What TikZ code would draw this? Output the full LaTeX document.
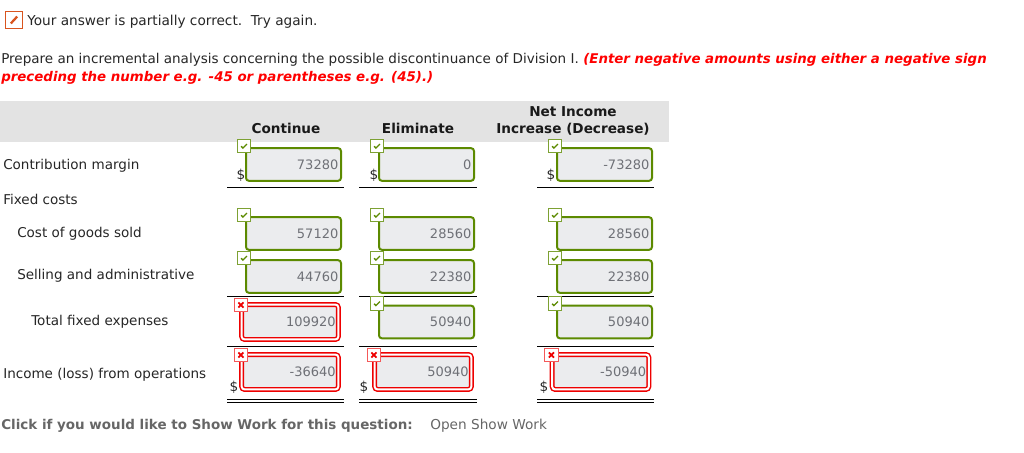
\documentclass[tikz,border=0pt]{standalone}
\usepackage{fontspec}
\setmainfont{DejaVu Sans}
\usepackage{tikz}
\usetikzlibrary{calc}
\definecolor{okgreen}{HTML}{5C8A00}
\definecolor{badred}{HTML}{EE0000}
\definecolor{fieldgray}{HTML}{EBECEE}
\definecolor{bandgray}{HTML}{E3E3E3}
\definecolor{valuegray}{HTML}{6E7076}
\definecolor{noteorange}{HTML}{D9541E}
\tikzset{
  plain/.style={anchor=base west,inner sep=0pt,font=\fontsize{10.15pt}{12pt}\selectfont,text=black!85},
  head/.style={anchor=base,inner sep=0pt,font=\fontsize{10.2pt}{12pt}\selectfont\bfseries,text=black!90},
  hint/.style={plain,text=red,font=\fontsize{10.02pt}{12pt}\selectfont\bfseries\itshape},
  field/.style={rounded corners=2.2pt,fill=fieldgray,text=valuegray,inner xsep=2pt,inner ysep=0pt,
    font=\fontsize{9.75pt}{12pt}\selectfont,align=right},
  okfield/.style={field,draw=okgreen,line width=1.5pt,minimum width=71.25pt,text width=67.25pt,minimum height=24.5pt},
  badfield/.style={field,draw=badred,line width=1.1pt,double=white,double distance=1.5pt,
    minimum width=72.5pt,text width=68.5pt,minimum height=26.2pt},
  okflag/.style={draw=okgreen!80,line width=0.8pt,fill=white,minimum size=10.2pt,inner sep=0pt},
  badflag/.style={draw=badred!65,line width=0.8pt,fill=white,minimum size=10.2pt,inner sep=0pt},
  rule/.style={line width=0.7pt,black}
}
% box centre x, centre y
\newcommand{\okcell}[4]{
  \node[okfield] (#1) at (#2,#3) {#4};
  \node[okflag] (#1flag) at ($(#1.north west)+(-0.75pt,0.9pt)$) {};
  \draw[okgreen,line width=1pt] ($(#1flag.center)+(-2.2pt,-0.2pt)$) -- ++(1.4pt,-1.4pt) -- ++(3pt,3pt);
}
\newcommand{\badcell}[4]{
  \node[badfield] (#1) at (#2,#3) {#4};
  \node[badflag] (#1flag) at ($(#1.north west)+(0pt,-0.9pt)$) {};
  \draw[badred,line width=1.3pt] ($(#1flag.center)+(-1.9pt,-1.9pt)$) -- ++(3.8pt,3.8pt)
    ($(#1flag.center)+(-1.9pt,1.9pt)$) -- ++(3.8pt,-3.8pt);
}
\begin{document}
\begin{tikzpicture}[x=0.75pt,y=-0.75pt]
  \useasboundingbox (0,0) rectangle (1024,453);

  % top note
  \node[draw=noteorange,line width=1.1pt,minimum size=12.6pt,inner sep=0pt] (note) at (14,20) {};
  \draw[noteorange,line width=1.7pt] ($(note.center)+(-2.4pt,-2.6pt)$) -- ($(note.center)+(2.4pt,2.6pt)$);
  \node[plain,font=\fontsize{10.25pt}{12pt}\selectfont] (status) at (27,26) {Your answer is partially correct.\ \ Try again.};

  \node[plain] (ask) at (1,64) {Prepare an incremental analysis concerning the possible discontinuance of Division I.};
  \node[hint] (hintone) at (583,64) {(Enter negative amounts using either a negative sign};
  \node[hint] (hinttwo) at (1,81) {preceding the number e.g. -45 or parentheses e.g. (45).)};

  % header band
  \fill[bandgray] (0,101) rectangle (669,142);
  \node[head] (continue) at (286,133) {Continue};
  \node[head] (eliminate) at (418,133) {Eliminate};
  \node[head] (netone) at (573,117) {Net Income};
  \node[head] (nettwo) at (573,133) {Increase (Decrease)};

  % row labels
  \foreach \nm/\x/\y/\txt in {contrib/3/169/Contribution margin,fixed/3/204/Fixed costs,
    cogs/17/237/Cost of goods sold,selling/17/279/Selling and administrative,
    total/31/325/Total fixed expenses,income/3/378/Income (loss) from operations}{
    \node[plain] (\nm) at (\x,\y) {\txt};
  }

  % rules
  \foreach \xa/\xb in {227/344,359/477,537/654}{
    \draw[rule] (\xa,187) -- (\xb,187);
    \draw[rule] (\xa,296) -- (\xb,296);
    \draw[rule] (\xa,346) -- (\xb,346);
    \draw[rule] (\xa,399.5) -- (\xb,399.5);
    \draw[rule] (\xa,402) -- (\xb,402);
  }

  % answer cells
  \okcell{ca}{293.5}{164.5}{73280}
  \okcell{cb}{426.5}{164.5}{0}
  \okcell{cc}{604.5}{164.5}{-73280}
  \okcell{da}{293.5}{233.5}{57120}
  \okcell{db}{426.5}{233.5}{28560}
  \okcell{dc}{604.5}{233.5}{28560}
  \okcell{ea}{293.5}{276.5}{44760}
  \okcell{eb}{426.5}{276.5}{22380}
  \okcell{ec}{604.5}{276.5}{22380}
  \badcell{fa}{290}{322}{109920}
  \okcell{fb}{426.5}{322}{50940}
  \okcell{fc}{604.5}{322}{50940}
  \badcell{ga}{290}{372}{-36640}
  \badcell{gb}{423}{372}{50940}
  \badcell{gc}{600.5}{372}{-50940}

  % dollar signs
  \foreach \nm/\x/\y in {dollara/241/179,dollarb/374/179,dollarc/551/179,dollard/234/391,dollare/364/391,dollarf/544/391}{
    \node[anchor=base,inner sep=0pt,font=\fontsize{10.25pt}{12pt}\selectfont,text=black!85] (\nm) at (\x,\y) {\$};
  }

  % footer
  \node[plain,text=black!60,font=\fontsize{10.1pt}{12pt}\selectfont\bfseries] (click) at (1,429)
    {Click if you would like to Show Work for this question:};
  \node[plain,text=black!60,font=\fontsize{10.25pt}{12pt}\selectfont] (open) at (430,429) {Open Show Work};
\end{tikzpicture}
\end{document}
